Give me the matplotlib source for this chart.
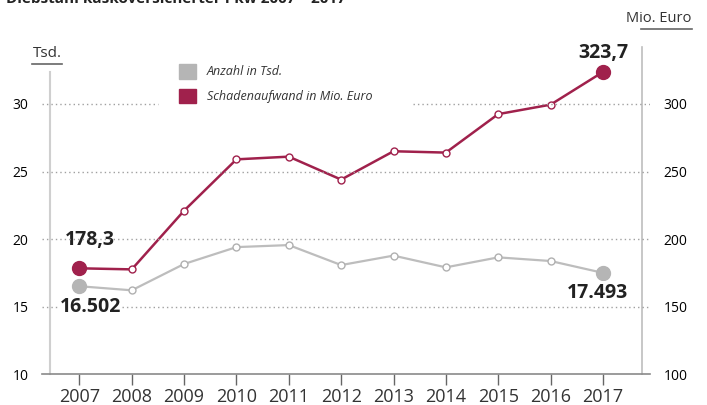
import matplotlib.pyplot as plt
from matplotlib.patches import Rectangle

years = [2007, 2008, 2009, 2010, 2011, 2012, 2013, 2014, 2015, 2016, 2017]
anzahl = [16.502, 16.2, 18.15, 19.4, 19.55, 18.07, 18.77, 17.9, 18.64, 18.37, 17.493]
schaden = [178.3, 177.5, 221, 259, 261, 244, 265, 264, 292.5, 299.5, 323.7]
left_ticks = [10, 15, 20, 25, 30]
right_ticks = [100, 150, 200, 250, 300]

RED = "#a0214c"
GRAY = "#b5b5b5"
TXT = "#333333"

plt.rcParams["font.family"] = ["Open Sans", "DejaVu Sans"]

fig = plt.figure(figsize=(7.07, 4.05), dpi=100)
ax = fig.add_axes([0.059, 0.0765, 0.8604, 0.8074])
ax2 = ax.twinx()

x0, x1 = 2006.28, 2017.9
ax.set_xlim(x0, x1)
ax.set_ylim(10, 34.22)
ax2.set_ylim(100, 342.2)

# dotted gridlines (30 line broken by the legend)
grid = dict(ls=(0, (1, 2.2)), color="#a0a0a0", lw=1, zorder=1)
for v in [15, 20, 25]:
    ax.plot([x0, x1], [v, v], **grid)
ax.plot([x0, 2008.51], [30, 30], **grid)
ax.plot([2013.37, x1], [30, 30], **grid)

# series
ax.plot(years, anzahl, color="#bdbdbd", lw=1.6, zorder=3)
ax.plot(years[1:-1], anzahl[1:-1], "o", ms=5, mfc="white", mec="#b0b0b0", mew=1, zorder=4)
ax.plot([years[0], years[-1]], [anzahl[0], anzahl[-1]], "o", ms=10, color=GRAY, zorder=4)

ax2.plot(years, schaden, color=RED, lw=1.8, zorder=3)
ax2.plot(years[1:-1], schaden[1:-1], "o", ms=5, mfc="white", mec=RED, mew=1, zorder=4)
ax2.plot([years[0], years[-1]], [schaden[0], schaden[-1]], "o", ms=10, color=RED, zorder=4)

# value labels
lab = dict(textcoords="offset pixels", ha="center", va="center", fontsize=14,
           fontweight="bold", color="#222222",
           bbox=dict(fc="white", ec="none", pad=1), zorder=5)
ax2.annotate("178,3", (years[0], schaden[0]), xytext=(10, 28), **lab)
ax.annotate("16.502", (years[0], anzahl[0]), xytext=(11, -21), **lab)
ax2.annotate("323,7", (years[-1], schaden[-1]), xytext=(0, 19), **lab)
ax.annotate("17.493", (years[-1], anzahl[-1]), xytext=(-5, -20), **lab)

# axes styling
ax.set_xticks(years)
ax.set_xticklabels([str(y) for y in years], fontsize=13, color=TXT)
ax.tick_params(axis="x", length=8, width=1, color="#666666", pad=2)
ax.set_yticks(left_ticks)
ax.set_yticklabels([str(t) for t in left_ticks], fontsize=13, color=TXT)
ax.tick_params(axis="y", length=0, pad=15)
ax2.set_yticks(right_ticks)
ax2.set_yticklabels([str(t) for t in right_ticks], fontsize=13, color=TXT)
ax2.tick_params(axis="y", length=0, pad=16)

for a in (ax, ax2):
    a.spines["top"].set_visible(False)
    a.set_facecolor("none")
ax.spines["right"].set_visible(False)
ax2.spines["left"].set_visible(False)
ax2.spines["bottom"].set_visible(False)
ax.spines["left"].set_position(("data", 2006.43))
ax.spines["left"].set_bounds(10, 32.37)
ax.spines["left"].set_color("#cfcfcf")
ax.spines["left"].set_linewidth(1.5)
ax2.spines["right"].set_position(("data", 2017.74))
ax2.spines["right"].set_color("#bdbdbd")
ax2.spines["right"].set_linewidth(1.2)
ax.spines["bottom"].set_color("#8a8a8a")
ax.spines["bottom"].set_linewidth(1.2)
ax.set_zorder(ax2.get_zorder() + 1)

# legend
for yy, c, t in [(0.823, GRAY, "Anzahl in Tsd."), (0.762, RED, "Schadenaufwand in Mio. Euro")]:
    fig.patches.append(Rectangle((0.253, yy - 0.017), 0.024, 0.036, color=c,
                                 transform=fig.transFigure, figure=fig))
    fig.text(0.293, yy, t, fontsize=9, style="italic", color=TXT, va="center")

# unit labels
fig.text(0.047, 0.868, "Tsd.", fontsize=11, color=TXT, ha="left", va="center")
fig.add_artist(plt.Line2D([0.045, 0.087], [0.843, 0.843], color="#666666", lw=1.2))
fig.text(0.978, 0.955, "Mio. Euro", fontsize=10.5, color=TXT, ha="right", va="center")
fig.add_artist(plt.Line2D([0.906, 0.979], [0.929, 0.929], color="#666666", lw=1.2))

# title, cut off at the top edge like in the source
fig.text(0.008, 1.003, "Diebstahl kaskoversicherter Pkw 2007 \u2013 2017", fontsize=11,
         fontweight="bold", color="#222222", ha="left", va="center")

fig.savefig("out.png", dpi=100)
